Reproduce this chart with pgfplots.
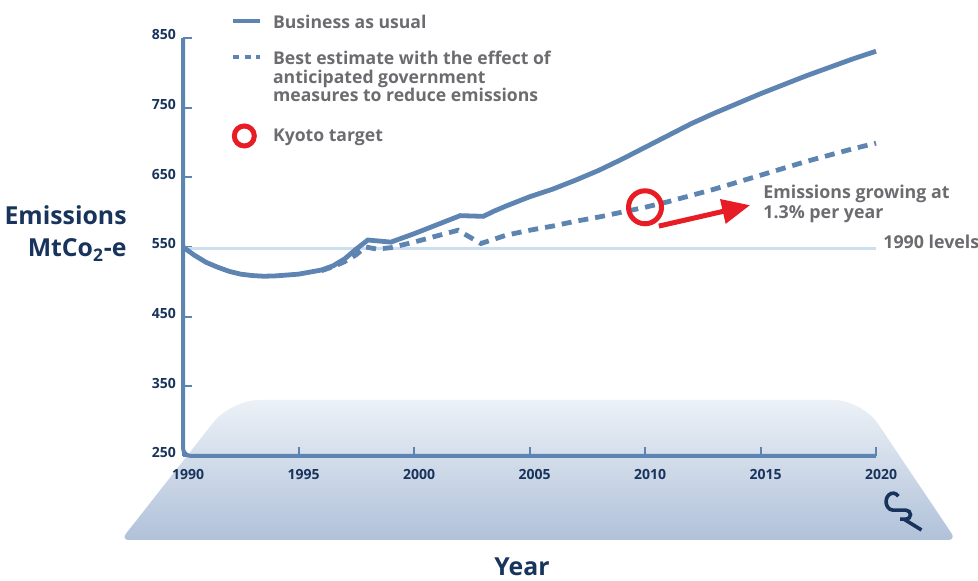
\documentclass[border=0pt]{standalone}
\usepackage{pgfplots}
\pgfplotsset{compat=1.18}
\usepackage{fontspec}
\setmainfont{Open Sans}
\usetikzlibrary{arrows.meta}

\definecolor{lineblue}{RGB}{94,132,178}
\definecolor{lightline}{RGB}{205,223,238}
\definecolor{navy}{RGB}{24,52,92}
\definecolor{textgray}{RGB}{108,108,112}
\definecolor{kred}{RGB}{232,28,36}
\definecolor{bgtop}{RGB}{236,241,247}
\definecolor{bgbot}{RGB}{176,193,217}

% business as usual
\pgfplotstableread{
year val
1990 550
1990.5 538
1991 528
1991.5 521
1992 515
1992.5 511
1993 509
1993.5 508
1994 508.5
1995 511
1996 517
1996.5 523
1997 533
1997.5 547
1998 560
1999 557
2000 569
2001 582
2002 595
2003 594
2003.5 602
2004 609
2005 622
2006 633
2007 646
2008 660
2009 676
2010 693
2011 710
2012 727
2013 742
2014 756
2015 770
2016 783
2017 796
2018 808
2019 820
2020 831
}\bau

% best estimate with government measures
\pgfplotstableread{
year val
1996 516
1996.6 523
1997 529
1997.5 539
1997.9 550
1998.4 547
1999 549
2000 557
2001 566
2001.9 574
2002.9 555
2004 567
2005 574
2006 580
2007 587
2008 593
2009 600
2010 607
2011 615
2012 624
2013 633
2014 643
2015 653
2016 663
2017 673
2018 682
2019 691
2020 699
}\best

\begin{document}
\begin{tikzpicture}[x=0.5pt,y=0.5pt]
\useasboundingbox (0,0) rectangle (978,581);

% trapezoid backdrop
\shade[top color=bgtop, bottom color=bgbot, rounded corners=4pt]
  (500,41) -- (121,41) [rounded corners=14pt] -- (231,181) -- (862,181)
  [rounded corners=4pt] -- (956,41) -- cycle;

\begin{axis}[
    at={(91.5pt,62.5pt)}, anchor=south west,
    scale only axis, width=346.5pt, height=209pt,
    xmin=1990, xmax=2020, ymin=250, ymax=850,
    clip=false,
    axis lines=left,
    axis line style={draw=none, -},
    xtick={1990,1995,...,2020},
    ytick={250,350,...,850},
    tick align=inside,
    major tick length=4.5pt,
    tick style={lineblue, line width=1pt},
    /pgf/number format/assume math mode=true,
    /pgf/number format/1000 sep={},
    ticklabel style={font=\fontsize{7}{8}\selectfont\bfseries, text=navy},
    yticklabel style={yshift=1.5pt},
    xticklabel style={xshift=2.5pt, yshift=-3pt},
]
% 1990 levels
\addplot[lightline, line width=1.3pt] coordinates {(1990,548) (2020,548)};

% business as usual
\addplot[lineblue, line width=2.4pt] table[x=year, y=val] {\bau};

% best estimate
\addplot[lineblue, line width=2.4pt, dash pattern=on 5pt off 3.5pt] table[x=year, y=val] {\best};

% Kyoto target
\addplot[only marks, mark=o, mark size=8.25pt,
    mark options={draw=kred, line width=2.5pt}] coordinates {(2010,607)};

% growth arrow
\addplot[kred, line width=2.5pt, -{Triangle[length=14pt,width=12pt]}]
    coordinates {(2010.6,580) (2014.55,610)};

% axis lines with the rounded corner
\draw[lineblue, line width=2pt, rounded corners=4pt]
  (rel axis cs:0,1) -- (rel axis cs:0,0) -- (rel axis cs:1,0);
\end{axis}

% legend
\begin{scope}[every node/.style={inner sep=0pt, anchor=base west, text=textgray,
    font=\fontsize{8.8}{9.15}\selectfont\bfseries}]
\draw[lineblue, line width=2pt] (233,560.3) -- (259.5,560.3);
\node at (272.7,552.7) {Business as usual};
\draw[lineblue, line width=2pt, dash pattern=on 3pt off 2.75pt] (233,523.7) -- (259.5,523.7);
\node at (272.7,516) {Best estimate with the effect of};
\node at (272.7,497.7) {anticipated government};
\node at (272.7,479.3) {measures to reduce emissions};
\draw[kred, line width=2.5pt] (244.3,445) circle (5pt);
\node at (272.7,439.3) {Kyoto target};
\end{scope}

% labels and notes
\begin{scope}[every node/.style={inner sep=0pt}]
\node[anchor=base east, text=navy, font=\fontsize{12.4}{14}\selectfont\bfseries] at (127,356) {Emissions};
\node[anchor=base east, text=navy, font=\fontsize{12.4}{14}\selectfont\bfseries] at (127,324) {MtCo\textsubscript{2}-e};
\node[anchor=base, text=navy, font=\fontsize{12.4}{14}\selectfont\bfseries] at (522,5) {Year};
\node[anchor=base west, text=textgray, font=\fontsize{8.9}{10}\selectfont\bfseries] at (763,382.7) {Emissions growing at};
\node[anchor=base west, text=textgray, font=\fontsize{8.9}{10}\selectfont\bfseries] at (763,362) {1.3\% per year};
\node[anchor=base west, text=textgray, font=\fontsize{8.9}{10}\selectfont\bfseries] at (883,332) {1990 levels};
\end{scope}

% logo
\draw[navy, line width=1.8pt] (898.4,84.8)
  arc[start angle=40, end angle=270, x radius=7, y radius=8.5]
  -- (906,70.8) arc[start angle=90, end angle=-90, radius=4.5] -- (900,61.8);
\draw[navy, line width=1.8pt] (904,61.8) -- (921.5,51);
\end{tikzpicture}
\end{document}
